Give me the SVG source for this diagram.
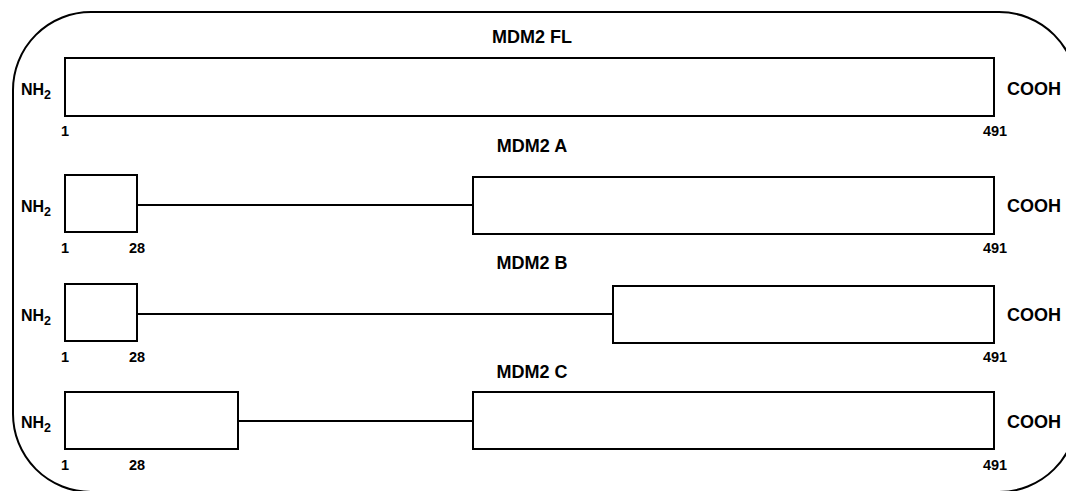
<svg xmlns="http://www.w3.org/2000/svg" width="1066" height="491" viewBox="0 0 1066 491">
<style>
.box{fill:#fff;stroke:#000;stroke-width:2}
.ln{stroke:#000;stroke-width:2;fill:none}
.t{font-family:"Liberation Sans",Arial,sans-serif;font-weight:bold;fill:#000}
.title{font-size:18px;text-anchor:middle}
.end{font-size:18px}
.nh{font-size:16px}
.num{font-size:14.5px;text-anchor:middle}
.sub{font-size:12.5px}
</style>
<rect width="1066" height="491" fill="#fff"/>
<rect id="frame" x="13" y="12" width="1064" height="480" rx="78" ry="78" fill="none" stroke="#000" stroke-width="2"/>
<g id="connectors">
<line class="ln" x1="137" y1="205" x2="473" y2="205"/>
<line class="ln" x1="137" y1="314" x2="613" y2="314"/>
<line class="ln" x1="238" y1="421" x2="473" y2="421"/>
</g>
<g id="mdm2-fl">
<text class="t title" x="532" y="43">MDM2 FL</text>
<rect class="box" x="65" y="58" width="929" height="58"/>
<text class="t nh" x="21" y="95">NH<tspan class="sub" dy="4">2</tspan></text>
<text class="t end" x="1007" y="95">COOH</text>
<text class="t num" x="65" y="136">1</text>
<text class="t num" x="995" y="136">491</text>
</g>
<g id="mdm2-a">
<text class="t title" x="532" y="152">MDM2 A</text>
<rect class="box" x="65" y="175" width="72" height="57"/>
<rect class="box" x="473" y="177" width="521" height="57"/>
<text class="t nh" x="21" y="212">NH<tspan class="sub" dy="4">2</tspan></text>
<text class="t end" x="1007" y="212">COOH</text>
<text class="t num" x="65" y="253">1</text>
<text class="t num" x="137" y="253">28</text>
<text class="t num" x="995" y="253">491</text>
</g>
<g id="mdm2-b">
<text class="t title" x="532" y="269">MDM2 B</text>
<rect class="box" x="65" y="284" width="72" height="57"/>
<rect class="box" x="613" y="286" width="381" height="57"/>
<text class="t nh" x="21" y="321">NH<tspan class="sub" dy="4">2</tspan></text>
<text class="t end" x="1007" y="321">COOH</text>
<text class="t num" x="65" y="362">1</text>
<text class="t num" x="137" y="362">28</text>
<text class="t num" x="995" y="362">491</text>
</g>
<g id="mdm2-c">
<text class="t title" x="532" y="378">MDM2 C</text>
<rect class="box" x="65" y="392" width="173" height="57"/>
<rect class="box" x="473" y="392" width="521" height="57"/>
<text class="t nh" x="21" y="428">NH<tspan class="sub" dy="4">2</tspan></text>
<text class="t end" x="1007" y="428">COOH</text>
<text class="t num" x="65" y="470">1</text>
<text class="t num" x="137" y="470">28</text>
<text class="t num" x="995" y="470">491</text>
</g>
</svg>
